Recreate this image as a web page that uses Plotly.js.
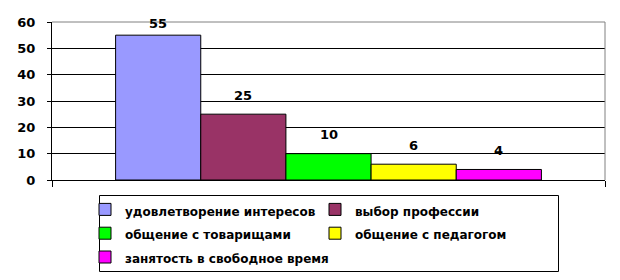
<!DOCTYPE html>
<html><head><meta charset="utf-8">
<script src="https://cdn.plot.ly/plotly-3.0.1.min.js"></script>
<style>html,body{margin:0;padding:0;background:#fff}#c{width:620px;height:280px}</style>
</head><body><div id="c"></div>
<script>
const category = [''];
const seriesNames = ['удовлетворение интересов','выбор профессии','общение с товарищами','общение с педагогом','занятость в свободное время'];
const seriesValues = [55, 25, 10, 6, 4];
const seriesColors = ['#9999FF','#993366','#00FF00','#FFFF00','#FF00FF'];
const yTicks = [0,10,20,30,40,50,60];

const traces = seriesNames.map((n,i)=>({
  type:'bar', name:'<span style="font-size:12px">'+n+'</span>', x:category, y:[seriesValues[i]],
  marker:{color:seriesColors[i], line:{color:'#000', width:1}},
  offsetgroup:String(i), hoverinfo:'skip'
}));
const nb = seriesNames.length, bargap = 0.23, w = (1-bargap)/nb;
const annotations = seriesValues.map((v,i)=>({
  xref:'x', yref:'y', x: -0.5 + bargap/2 + w*(i+0.5), y:v, text:String(v),
  showarrow:false, yshift: v>50?12:19, font:{family:'DejaVu Sans', size:13, color:'#000', weight:'bold'}
}));
// plot area in px: x 52..605, y 22..180
const px = x => (x-52)/553, py = y => (180-y)/158;
const layout = {
  width:620, height:280, margin:{l:52, r:15, t:22, b:100, autoexpand:false},
  paper_bgcolor:'#fff', plot_bgcolor:'#fff',
  barmode:'group', bargap:bargap, bargroupgap:0,
  font:{family:'DejaVu Sans', size:13, color:'#000', weight:'bold'},
  xaxis:{type:'category', range:[-0.5,0.5], showticklabels:false, tickson:'boundaries',
    ticks:'outside', ticklen:6, tickcolor:'#000', showline:true, linecolor:'#000', linewidth:1,
    showgrid:false, zeroline:false, fixedrange:true},
  yaxis:{range:[0,60], tickvals:yTicks, ticks:'outside', ticklen:4, tickcolor:'#000',
    showline:true, linecolor:'#000', linewidth:1, gridcolor:'#000', gridwidth:1,
    zeroline:false, ticklabelstandoff:9, tickfont:{family:'DejaVu Sans', size:13, weight:'bold'}},
  shapes:[
    {type:'line', xref:'paper', yref:'paper', x0:0, x1:1, y0:1, y1:1, line:{color:'#808080', width:1}, layer:'above'},
    {type:'line', xref:'paper', yref:'paper', x0:1, x1:1, y0:0, y1:1, line:{color:'#808080', width:1}, layer:'above'},
    {type:'rect', xref:'paper', yref:'paper', x0:px(99.5), x1:px(558.5), y0:py(195.5), y1:py(271.5), line:{color:'#000', width:1}, fillcolor:'rgba(0,0,0,0)', layer:'above'}
  ],
  annotations:annotations,
  showlegend:true,
  legend:{orientation:'h', x:px(85), xanchor:'left', y:py(192.5), yanchor:'top',
    borderwidth:0, bgcolor:'rgba(0,0,0,0)', entrywidth:185, itemwidth:30,
    traceorder:'normal', tracegroupgap:0,
    font:{family:'DejaVu Sans', size:16, color:'#000', weight:'bold'}}
};
Plotly.newPlot('c', traces, layout, {staticPlot:true, displayModeBar:false});
</script></body></html>
